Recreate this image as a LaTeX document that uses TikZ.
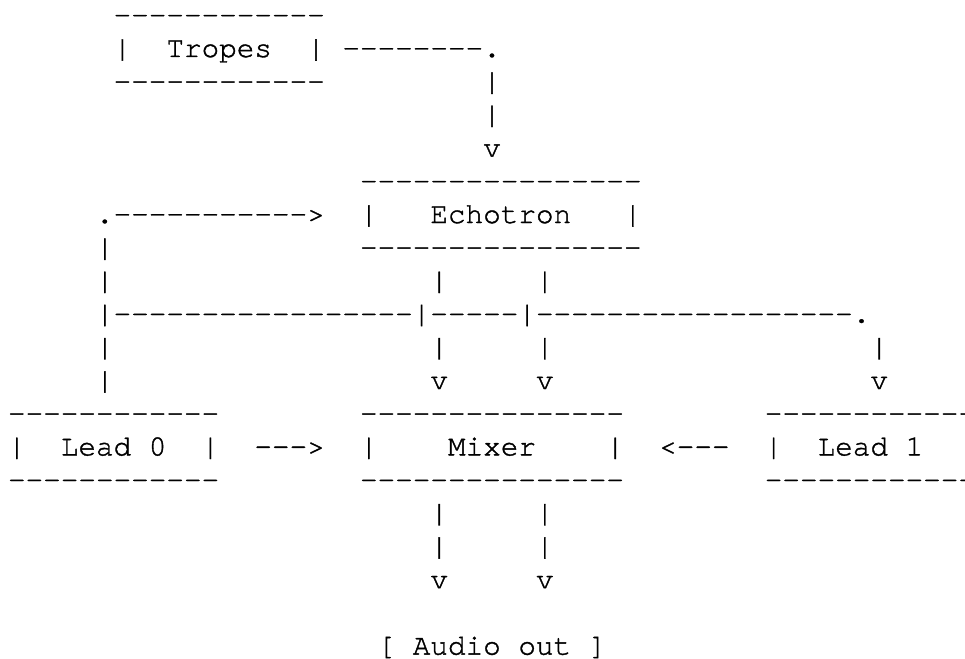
\documentclass[tikz,border=0pt]{standalone}
\usepackage{fontspec}
\setmonofont[FakeBold=1.2]{TeX Gyre Cursor}
\tikzset{
  asc/.style={anchor=base west, inner sep=0pt, outer sep=0pt, text=black,
    font=\ttfamily\fontsize{29.33pt}{33.2pt}\selectfont}
}
% \asc{name}{column}{row}{text}
\newcommand{\asc}[4]{\node[asc] (#1) at ({8+#2*17.6},{-(23.8+#3*33.2)}) {#4};}
\begin{document}
\begin{tikzpicture}[x=1pt,y=1pt]
\useasboundingbox[fill=white] (0,0) rectangle (965,-658);
\clip (0,0) rectangle (965,-658);
% Tropes box and its link
\asc{tropesTop}{6}{0}{------------}
\asc{tropesL}{6}{1}{|}
\asc{tropes}{9}{1}{Tropes}
\asc{tropesR}{17}{1}{|}
\asc{tropesLink}{19}{1}{--------.}
\asc{tropesBot}{6}{2}{------------}
\asc{tropesV1}{27}{2}{|}
\asc{tropesV2}{27}{3}{|}
\asc{tropesArr}{27}{4}{v}
% Echotron box
\asc{echoTop}{20}{5}{----------------}
\asc{fbArrow}{5}{6}{.----------->}
\asc{echoL}{20}{6}{|}
\asc{echo}{24}{6}{Echotron}
\asc{echoR}{35}{6}{|}
\asc{fbV7}{5}{7}{|}
\asc{echoBot}{20}{7}{----------------}
\asc{fbV8}{5}{8}{|}
\asc{echoOutA8}{24}{8}{|}
\asc{echoOutB8}{30}{8}{|}
\asc{bus}{5}{9}{|-----------------|-----|------------------.}
\asc{fbV10}{5}{10}{|}
\asc{echoOutA10}{24}{10}{|}
\asc{echoOutB10}{30}{10}{|}
\asc{busR10}{49}{10}{|}
\asc{fbV11}{5}{11}{|}
\asc{mixInA}{24}{11}{v}
\asc{mixInB}{30}{11}{v}
\asc{leadOneIn}{49}{11}{v}
% Lead 0, Mixer, Lead 1
\asc{leadZeroTop}{0}{12}{------------}
\asc{mixTop}{20}{12}{---------------}
\asc{leadOneTop}{43}{12}{------------}
\asc{leadZeroL}{0}{13}{|}
\asc{leadZero}{3}{13}{Lead 0}
\asc{leadZeroR}{11}{13}{|}
\asc{arrZero}{14}{13}{--->}
\asc{mixL}{20}{13}{|}
\asc{mixer}{25}{13}{Mixer}
\asc{mixR}{34}{13}{|}
\asc{arrOne}{37}{13}{<---}
\asc{leadOneL}{43}{13}{|}
\asc{leadOne}{46}{13}{Lead 1}
\asc{leadZeroBot}{0}{14}{------------}
\asc{mixBot}{20}{14}{---------------}
\asc{leadOneBot}{43}{14}{------------}
% outputs
\asc{outA15}{24}{15}{|}
\asc{outB15}{30}{15}{|}
\asc{outA16}{24}{16}{|}
\asc{outB16}{30}{16}{|}
\asc{outA17}{24}{17}{v}
\asc{outB17}{30}{17}{v}
\asc{audio}{21}{19}{[ Audio out ]}
\end{tikzpicture}
\end{document}
